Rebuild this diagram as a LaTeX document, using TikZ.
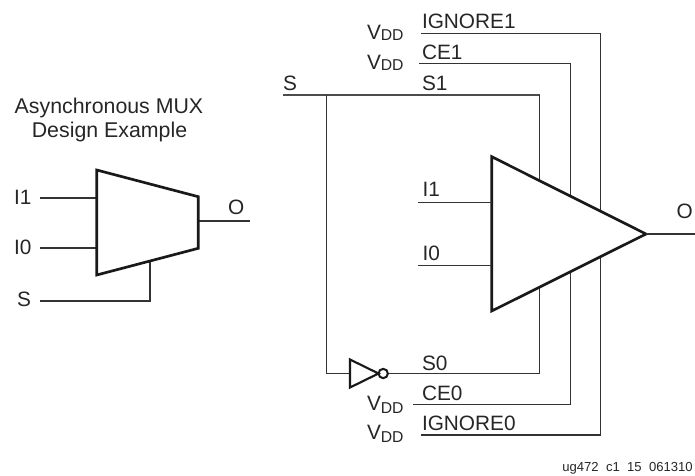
\documentclass[tikz,border=0pt]{standalone}
\usepackage{fontspec}
\setmainfont{Liberation Sans}
\tikzset{
  px/.style={x=0.75pt,y=-0.75pt},
  lbl/.style={inner sep=0pt,outer sep=0pt,anchor=base west,font=\fontsize{15.6}{18}\selectfont,text=black!85},
  ttl/.style={inner sep=0pt,outer sep=0pt,anchor=base,font=\fontsize{16}{18}\selectfont,text=black!85},
  sublbl/.style={inner sep=0pt,outer sep=0pt,anchor=base west,font=\fontsize{11.8}{14}\selectfont,text=black!85},
  wire/.style={draw=black!80,line width=0.9pt},
  bus/.style={draw=black!70,line width=1.2pt},
  gate/.style={draw=black!90,line width=2pt,fill=white,line join=miter},
  thin gate/.style={draw=black!90,line width=1.6pt,fill=white,line join=miter}
}
\newcommand{\vdd}[3]{%
  \node[lbl] (#1) at (367,#2) {V};
  \node[sublbl] (#1d) at (#1.base east) [yshift=-#3pt] {DD};
}
\begin{document}
\begin{tikzpicture}[px]
\useasboundingbox (0,0) rectangle (695,475);
% left mux
\coordinate (mTL) at (96.7,170);
\coordinate (mTR) at (198.3,196.7);
\coordinate (mBR) at (198.3,248.3);
\coordinate (mBL) at (96.7,275);
\node[ttl] (title1) at (109,113) {Asynchronous MUX};
\node[ttl] (title2) at (109.5,137) {Design Example};
\node[lbl] (lI1) at (14,204) {I1};
\node[lbl] (lI0) at (14,254.3) {I0};
\node[lbl] (lS) at (17,306) {S};
\node[lbl] (lO) at (228,214) {O};
\coordinate (aI1s) at (40,198);
\coordinate (aI1e) at (96.7,198);
\coordinate (aI0s) at (40,248);
\coordinate (aI0e) at (96.7,248);
\coordinate (aSs) at (40,301);
\coordinate (aSc) at (150,301);
\coordinate (aSe) at (150,261);
\coordinate (aOs) at (198.3,221);
\coordinate (aOe) at (250,221);
\draw[wire] (aI1s) -- (aI1e);
\draw[wire] (aI0s) -- (aI0e);
\draw[wire] (aSs) -- (aSc) -- (aSe);
\draw[wire] (aOs) -- (aOe);
\draw[gate] (mTL) -- (mTR) -- (mBR) -- (mBL) -- cycle;
% right wires
\coordinate (ig1s) at (421,33.3);
\coordinate (ig1c) at (600.3,33.3);
\coordinate (ig0s) at (421,435);
\coordinate (ig0c) at (600.3,435);
\coordinate (ce1s) at (419,63.3);
\coordinate (ce1c) at (570.7,63.3);
\coordinate (ce0s) at (413,404.3);
\coordinate (ce0c) at (570.7,404.3);
\coordinate (s1s) at (283,95);
\coordinate (s1c) at (539.7,95);
\coordinate (br) at (326.7,95);
\coordinate (brc) at (326.7,373.5);
\coordinate (s0c) at (539.7,373.5);
\draw[wire] (ig1s) -- (ig1c) -- (ig0c) -- (ig0s);
\draw[wire] (ce1s) -- (ce1c) -- (ce0c) -- (ce0s);
\draw[bus] (s1s) -- (s1c);
\draw[wire] (s1c) -- (s0c);
% triangle
\coordinate (tT) at (491.7,156.7);
\coordinate (tP) at (646,234);
\coordinate (tB) at (491.7,311);
\draw[gate] (tT) -- (tP) -- (tB) -- cycle;
\coordinate (bI1s) at (418,202.7);
\coordinate (bI1e) at (491.7,202.7);
\coordinate (bI0s) at (418,265.7);
\coordinate (bI0e) at (491.7,265.7);
\coordinate (bOe) at (695,234);
\draw[wire] (bI1s) -- (bI1e);
\draw[wire] (bI0s) -- (bI0e);
\draw[wire] (tP) -- (bOe);
% inverter
\coordinate (iT) at (350,359.5);
\coordinate (iB) at (350,387.5);
\coordinate (iP) at (378.5,373.5);
\coordinate (iIn) at (350,373.5);
\node[circle,draw=black!90,line width=1.5pt,fill=white,minimum size=7pt,inner sep=0pt] (bub) at (383.2,373.5) {};
\draw[wire] (br) -- (brc) -- (iIn);
\draw[wire] (bub) -- (s0c);
\draw[thin gate] (iT) -- (iP) -- (iB) -- cycle;
% labels
\node[lbl] (lIg1) at (422,28.3) {IGNORE1};
\node[lbl] (lCe1) at (422,59.3) {CE1};
\node[lbl] (lS1) at (422,90.7) {S1};
\node[lbl] (lSr) at (283,90.7) {S};
\node[lbl] (lI1r) at (422.5,196.7) {I1};
\node[lbl] (lI0r) at (422.5,260.7) {I0};
\node[lbl] (lOr) at (676.7,218.3) {O};
\node[lbl] (lS0) at (422,370) {S0};
\node[lbl] (lCe0) at (422,400) {CE0};
\node[lbl] (lIg0) at (422,430.7) {IGNORE0};
\vdd{vA}{39.5}{1}
\vdd{vB}{69.5}{1}
\vdd{vC}{410.5}{2.5}
\vdd{vD}{439}{2.5}
\node[inner sep=0pt,anchor=base east,font=\fontsize{9.8}{11}\selectfont,text=black!85] (foot) at (693,471.5) {ug472\hspace{2.8pt} c1\hspace{2.8pt} 15\hspace{2.8pt} 061310};
\end{tikzpicture}
\end{document}
